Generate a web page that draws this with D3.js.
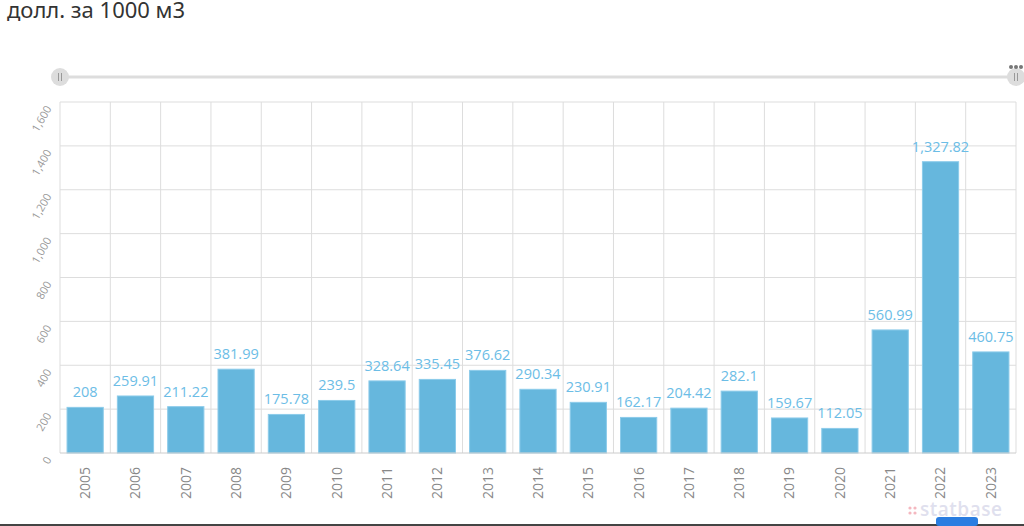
<!DOCTYPE html>
<html>
<head>
<meta charset="utf-8">
<script src="https://cdn.jsdelivr.net/npm/d3@7/dist/d3.min.js"></script>
<style>
    body { margin: 0; background: #fff; }
    svg { display: block; }
</style>
</head>
<body>
<div id="chart"></div>
<script>
// data
const years = ["2005", "2006", "2007", "2008", "2009", "2010", "2011", "2012", "2013", "2014",
    "2015", "2016", "2017", "2018", "2019", "2020", "2021", "2022", "2023"];
const prices = [208, 259.91, 211.22, 381.99, 175.78, 239.5, 328.64, 335.45, 376.62, 290.34,
    230.91, 162.17, 204.42, 282.1, 159.67, 112.05, 560.99, 1327.82, 460.75];
const yTicks = [0, 200, 400, 600, 800, 1000, 1200, 1400, 1600];
const title = "долл. за 1000 м3";

const width = 1024, height = 526;
const margin = { top: 102, right: 8, bottom: 73, left: 60 };

const svg = d3.select("#chart").append("svg")
    .attr("width", width)
    .attr("height", height);

svg.append("text")
    .attr("x", 7)
    .attr("y", 18)
    .attr("fill", "#333")
    .style("font-family", "'Noto Sans', sans-serif")
    .style("font-size", "22px")
    .text(title);

const x = d3.scaleBand()
    .domain(years)
    .range([margin.left, width - margin.right])
    .paddingInner(0.28)
    .paddingOuter(0.14);

const y = d3.scaleLinear()
    .domain([0, 1600])
    .range([height - margin.bottom, margin.top]);

// slider
const slider = svg.append("g");
slider.append("line")
    .attr("x1", margin.left).attr("x2", width - margin.right)
    .attr("y1", 77).attr("y2", 77)
    .attr("stroke", "#ddd").attr("stroke-width", 3);
[margin.left, width - margin.right].forEach(cx => {
    slider.append("circle")
        .attr("cx", cx).attr("cy", 77).attr("r", 9)
        .attr("fill", "#ddd");
    [-1.5, 1.5].forEach(dx => {
        slider.append("line")
            .attr("x1", cx + dx).attr("x2", cx + dx)
            .attr("y1", 73).attr("y2", 81)
            .attr("stroke", "#999").attr("stroke-width", 1);
    });
});
[-5, 0, 5].forEach(dx => {
    slider.append("circle")
        .attr("cx", width - margin.right + dx).attr("cy", 67).attr("r", 2)
        .attr("fill", "#777");
});

// horizontal grid
svg.append("g")
    .selectAll("line")
    .data(yTicks.slice(1))
    .join("line")
    .attr("x1", margin.left).attr("x2", width - margin.right)
    .attr("y1", d => y(d)).attr("y2", d => y(d))
    .attr("stroke", "#ddd");

// vertical grid at band boundaries
const step = x.step();
const bounds = years.map(d => x(d) - x.paddingOuter() * step);
bounds.push(width - margin.right);
svg.append("g")
    .selectAll("line")
    .data(bounds)
    .join("line")
    .attr("x1", d => d).attr("x2", d => d)
    .attr("y1", margin.top).attr("y2", y(0))
    .attr("stroke", "#ddd");

// y axis labels
const yAxis = svg.append("g")
    .attr("transform", `translate(${margin.left},0)`)
    .call(d3.axisLeft(y).tickValues(yTicks).tickFormat(d3.format(",")).tickSize(0));
yAxis.select(".domain").remove();
yAxis.selectAll("text")
    .attr("x", 0).attr("dy", 0)
    .attr("fill", "#999")
    .style("font-family", "'Open Sans', sans-serif")
    .style("font-size", "11px")
    .attr("text-anchor", "end")
    .attr("transform", "translate(-8,6) rotate(-60)");

// bars
svg.append("g")
    .selectAll("rect")
    .data(years)
    .join("rect")
    .attr("x", d => x(d))
    .attr("y", (d, i) => y(prices[i]))
    .attr("width", x.bandwidth())
    .attr("height", (d, i) => y(0) - y(prices[i]))
    .attr("fill", "#66b7dd")
    .attr("stroke", "#8ccbea")
    .attr("stroke-width", 1);

// baseline
svg.append("line")
    .attr("x1", margin.left).attr("x2", width - margin.right)
    .attr("y1", y(0)).attr("y2", y(0))
    .attr("stroke", "#ccc");

// value labels
const fmt = d3.format(",");
svg.append("g")
    .selectAll("text")
    .data(years)
    .join("text")
    .attr("x", d => x(d) + x.bandwidth() / 2)
    .attr("y", (d, i) => y(prices[i]) - 10)
    .attr("text-anchor", "middle")
    .attr("fill", "#6cbde6")
    .style("font-family", "'Open Sans', sans-serif")
    .style("font-size", "14.5px")
    .text((d, i) => fmt(prices[i]));

// x axis labels
const xAxis = svg.append("g")
    .attr("transform", `translate(0,${y(0)})`)
    .call(d3.axisBottom(x).tickSize(0));
xAxis.select(".domain").remove();
xAxis.selectAll("text")
    .attr("fill", "#888")
    .style("font-family", "'Open Sans', sans-serif")
    .style("font-size", "14px")
    .attr("text-anchor", "end")
    .attr("dy", "0.35em")
    .attr("y", 0)
    .attr("transform", "translate(0,14) rotate(-90)");

// footer
svg.append("line")
    .attr("x1", 0).attr("x2", width)
    .attr("y1", 525).attr("y2", 525)
    .attr("stroke", "#444").attr("stroke-width", 2);
svg.append("rect")
    .attr("x", 936).attr("y", 517).attr("width", 42).attr("height", 9).attr("rx", 3)
    .attr("fill", "#2a7de1");
svg.append("text")
    .attr("x", 920).attr("y", 516)
    .attr("fill", "#dfe0ee")
    .style("font-family", "'Open Sans', sans-serif")
    .style("font-size", "19px")
    .style("font-weight", "600")
    .style("letter-spacing", "0.5px")
    .text("statbase");
[[910, 508], [915, 508], [910, 513], [915, 513]].forEach(p => {
    svg.append("circle").attr("cx", p[0]).attr("cy", p[1]).attr("r", 1.6).attr("fill", "#f4b8c0");
});
</script>
</body>
</html>
